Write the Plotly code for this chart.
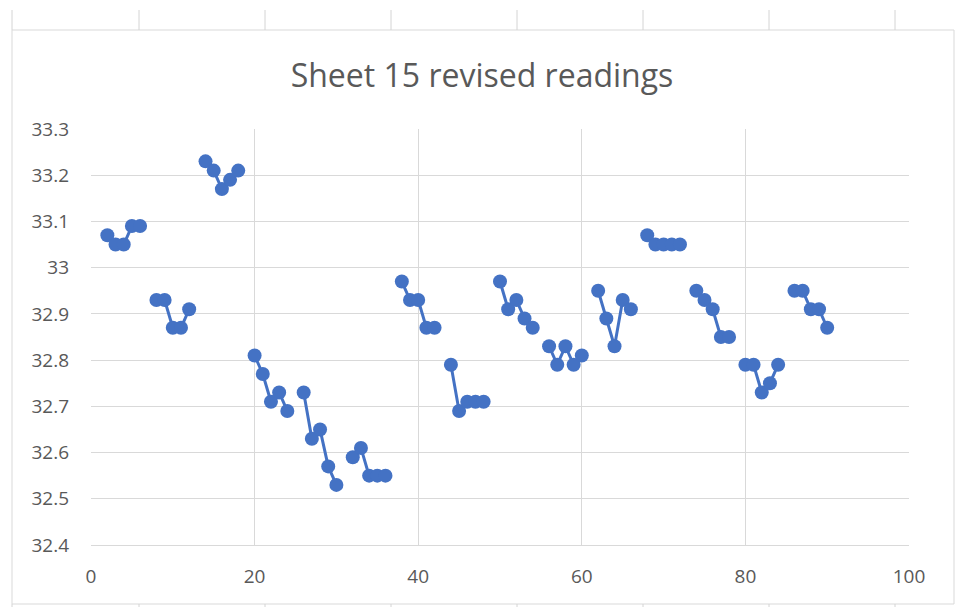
import plotly.graph_objects as go

# ---- data ----
x_values = [2, 3, 4, 5, 6, 7,
            8, 9, 10, 11, 12, 13,
            14, 15, 16, 17, 18, 19,
            20, 21, 22, 23, 24, 25,
            26, 27, 28, 29, 30, 31,
            32, 33, 34, 35, 36, 37,
            38, 39, 40, 41, 42, 43,
            44, 45, 46, 47, 48, 49,
            50, 51, 52, 53, 54, 55,
            56, 57, 58, 59, 60, 61,
            62, 63, 64, 65, 66, 67,
            68, 69, 70, 71, 72, 73,
            74, 75, 76, 77, 78, 79,
            80, 81, 82, 83, 84, 85,
            86, 87, 88, 89, 90]
readings = [33.07, 33.05, 33.05, 33.09, 33.09, None,
            32.93, 32.93, 32.87, 32.87, 32.91, None,
            33.23, 33.21, 33.17, 33.19, 33.21, None,
            32.81, 32.77, 32.71, 32.73, 32.69, None,
            32.73, 32.63, 32.65, 32.57, 32.53, None,
            32.59, 32.61, 32.55, 32.55, 32.55, None,
            32.97, 32.93, 32.93, 32.87, 32.87, None,
            32.79, 32.69, 32.71, 32.71, 32.71, None,
            32.97, 32.91, 32.93, 32.89, 32.87, None,
            32.83, 32.79, 32.83, 32.79, 32.81, None,
            32.95, 32.89, 32.83, 32.93, 32.91, None,
            33.07, 33.05, 33.05, 33.05, 33.05, None,
            32.95, 32.93, 32.91, 32.85, 32.85, None,
            32.79, 32.79, 32.73, 32.75, 32.79, None,
            32.95, 32.95, 32.91, 32.91, 32.87]
y_tick_vals = [32.4, 32.5, 32.6, 32.7, 32.8, 32.9, 33.0, 33.1, 33.2, 33.3]
y_tick_text = ["32.4", "32.5", "32.6", "32.7", "32.8", "32.9", "33", "33.1", "33.2", "33.3"]
x_tick_vals = [0, 20, 40, 60, 80, 100]
title_text = "Sheet 15 revised readings"

# ---- layout geometry (pixels) ----
W, H = 956, 607
L, R, T, B = 91, 909, 129, 545

def px(xp):
    return (xp - L) / (R - L)

def py(yp):
    return (B - yp) / (B - T)

fig = go.Figure()
fig.add_trace(go.Scatter(
    x=x_values, y=readings, mode="lines+markers",
    connectgaps=False,
    line=dict(color="#4472C4", width=3),
    marker=dict(color="#4472C4", size=14),
    showlegend=False,
))

shapes = []
# chart border
shapes.append(dict(type="rect", xref="paper", yref="paper",
                   x0=px(12), x1=px(954), y0=py(604), y1=py(30),
                   line=dict(color="#d9d9d9", width=1), layer="below"))
# spreadsheet cell lines
for cx in [12, 139, 265, 391, 517, 643, 769, 895]:
    shapes.append(dict(type="line", xref="paper", yref="paper",
                       x0=px(cx), x1=px(cx), y0=py(10), y1=py(30),
                       line=dict(color="#d4d4d4", width=1)))
    shapes.append(dict(type="line", xref="paper", yref="paper",
                       x0=px(cx), x1=px(cx), y0=py(604), y1=py(607),
                       line=dict(color="#d4d4d4", width=1)))

fig.update_layout(
    width=W, height=H,
    margin=dict(l=L, r=W - R, t=T, b=H - B),
    paper_bgcolor="white", plot_bgcolor="white",
    font=dict(family="Open Sans, Noto Sans, sans-serif", color="#595959"),
    title=dict(text=title_text, xref="container", x=482 / W, xanchor="center",
               yref="container", y=1 - 76 / H, yanchor="middle",
               font=dict(size=32, color="#595959")),
    shapes=shapes,
    xaxis=dict(range=[0, 100], tickvals=x_tick_vals, showgrid=True,
               gridcolor="#d9d9d9", gridwidth=1, zeroline=False,
               showline=True, linecolor="#d9d9d9", ticks="",
               tickfont=dict(size=19, color="#595959"), ticklabelstandoff=14),
    yaxis=dict(range=[32.4, 33.3], tickvals=y_tick_vals, ticktext=y_tick_text,
               showgrid=True, gridcolor="#d9d9d9", gridwidth=1, zeroline=False,
               showline=False, ticks="",
               tickfont=dict(size=19, color="#595959"), ticklabelstandoff=21),
)

fig.write_html("out.html")
